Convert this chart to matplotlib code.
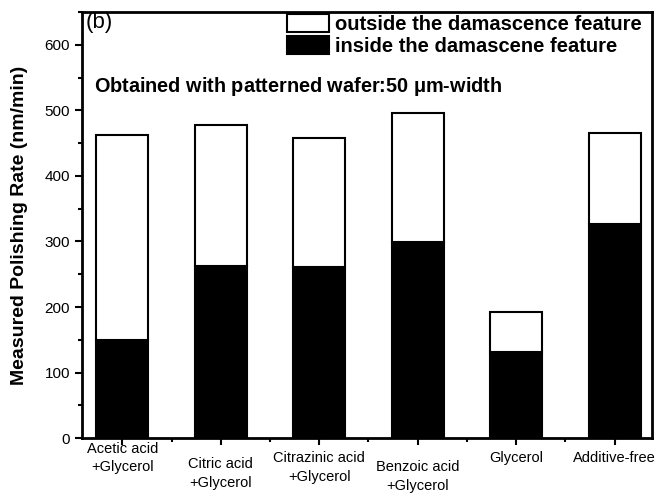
import matplotlib
matplotlib.use("Agg")
import matplotlib.pyplot as plt
from matplotlib.patches import Patch
from matplotlib.transforms import blended_transform_factory

plt.rcParams['font.family'] = ['Liberation Sans', 'DejaVu Sans']

# data (nm/min)
categories = ["Acetic acid\n+Glycerol", "Citric acid\n+Glycerol", "Citrazinic acid\n+Glycerol",
              "Benzoic acid\n+Glycerol", "Glycerol", "Additive-free"]
inside = [150, 262, 261, 299, 132, 327]
outside = [312, 215, 197, 197, 61, 139]
# vertical spot of each label, in axes fraction below the x-axis
label_y = [-0.008, -0.044, -0.030, -0.051, -0.030, -0.030]

x = list(range(1, len(categories) + 1))

fig = plt.figure(figsize=(6.66, 4.99), dpi=100)
ax = fig.add_axes([0.123, 0.122, 0.856, 0.854])

ax.bar(x, inside, width=0.53, color='black', edgecolor='black', linewidth=1.5)
ax.bar(x, outside, width=0.53, bottom=inside, color='white', edgecolor='black', linewidth=1.5)

ax.set_xlim(0.59, 6.38)
ax.set_ylim(0, 650)
ax.set_yticks(range(0, 601, 100))
ax.set_yticks(range(50, 651, 100), minor=True)
ax.set_xticks(x)
ax.set_xticks([i + 0.5 for i in x[:-1]], minor=True)
ax.set_xticklabels([])
ax.tick_params(axis='both', which='major', direction='out', length=5, width=1.5, labelsize=11)
ax.tick_params(axis='both', which='minor', direction='out', length=3, width=1.5)
for s in ax.spines.values():
    s.set_linewidth(2)

trans = blended_transform_factory(ax.transData, ax.transAxes)
for xi, lab, ly in zip(x, categories, label_y):
    ax.text(xi, ly, lab, transform=trans, ha='center', va='top', fontsize=10.5,
            linespacing=1.45)

ax.set_ylabel("Measured Polishing Rate (nm/min)", fontsize=14, fontweight='bold', labelpad=12)

ax.text(0.006, 1.0, "(b)", transform=ax.transAxes, fontsize=16, va='top')
ax.text(0.022, 0.825, "Obtained with patterned wafer:50 $\\mathregular{\\mu}$m-width",
        transform=ax.transAxes, fontsize=14.3, fontweight='bold', va='center')

handles = [Patch(facecolor='white', edgecolor='black', linewidth=1.5),
           Patch(facecolor='black', edgecolor='black', linewidth=1.5)]
ax.legend(handles, ["outside the damascence feature", "inside the damascene feature"],
          loc='upper right', bbox_to_anchor=(0.982, 0.996), frameon=False,
          borderaxespad=0, borderpad=0,
          prop={'size': 14.5, 'weight': 'bold'}, handlelength=2.1, handleheight=1.0,
          handletextpad=0.3, labelspacing=0.12)

fig.savefig("out.png", dpi=100)
